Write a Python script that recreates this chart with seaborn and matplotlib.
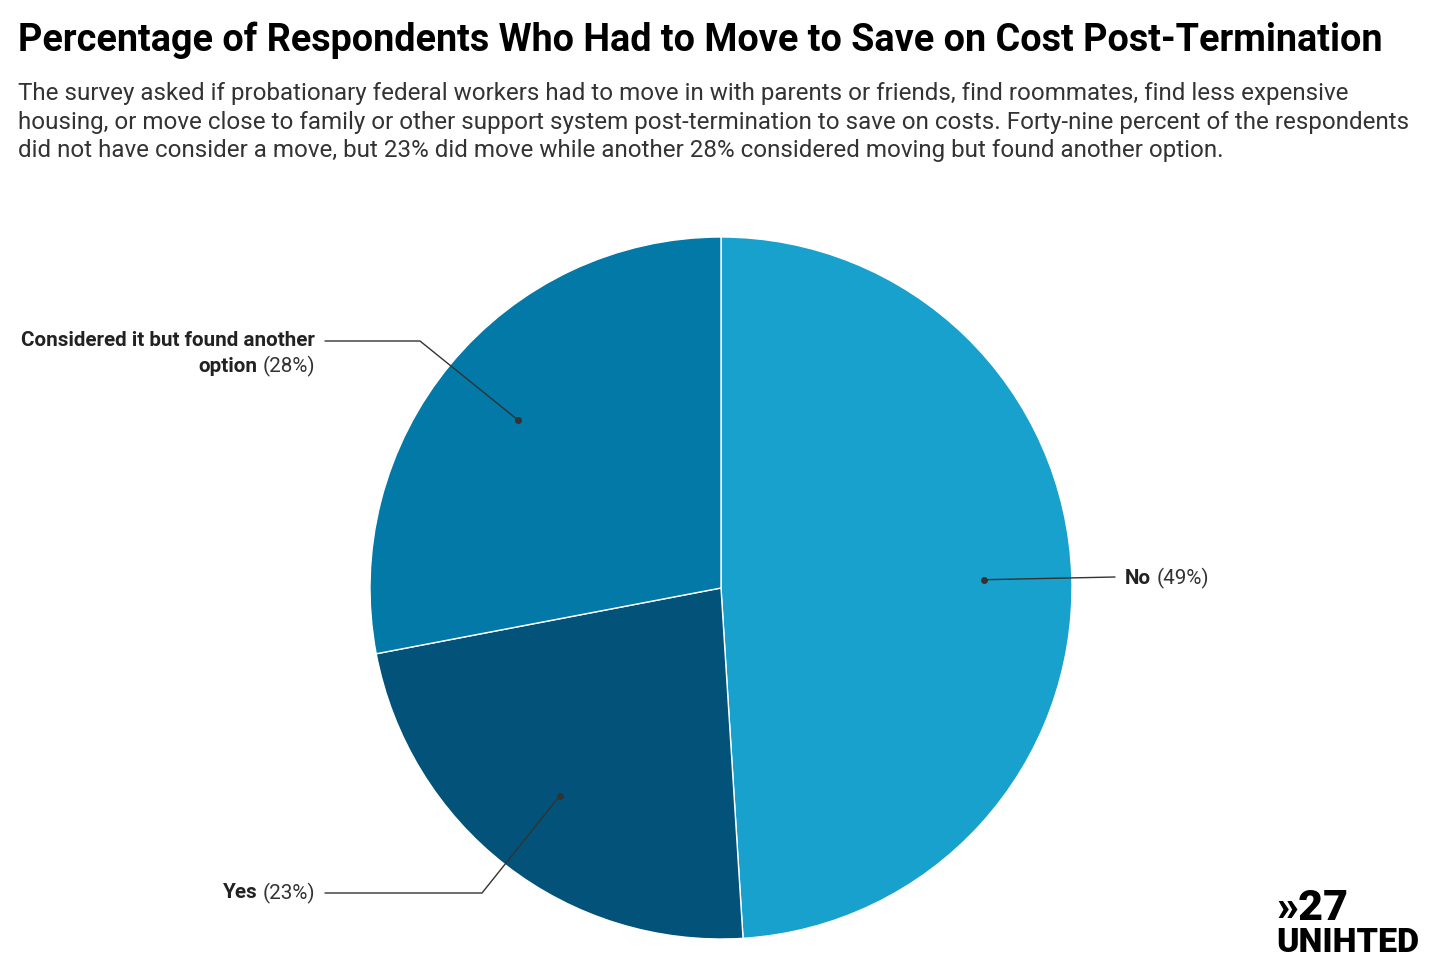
import numpy as np
import matplotlib.pyplot as plt
import seaborn as sns

sns.set_theme(style="white")
plt.rcParams["font.family"] = ["Roboto", "DejaVu Sans"]

labels = ["No", "Yes", "Considered it but found another\noption"]
values = [49, 23, 28]
colors = ["#18A1CD", "#02527A", "#0279A6"]

W, H = 1440, 968
fig = plt.figure(figsize=(W / 100, H / 100), dpi=100)
cx, cy, r = 721, 588, 351
ax = fig.add_axes([(cx - r) / W, (H - cy - r) / H, 2 * r / W, 2 * r / H])
wedges, _ = ax.pie(values, colors=colors, startangle=90, counterclock=False,
                   wedgeprops=dict(edgecolor="white", linewidth=1))
ax.set_xlim(-1, 1)
ax.set_ylim(-1, 1)
ax.set_aspect("equal")
ax.axis("off")

fig.text(18 / W, 1 - 40 / H, "Percentage of Respondents Who Had to Move to Save on Cost Post-Termination",
         fontsize=27.2, fontweight="bold", va="center", ha="left", color="black")
fig.text(18 / W, 1 - 122 / H,
         "The survey asked if probationary federal workers had to move in with parents or friends, find roommates, find less expensive\n"
         "housing, or move close to family or other support system post-termination to save on costs. Forty-nine percent of the respondents\n"
         "did not have consider a move, but 23% did move while another 28% considered moving but found another option.",
         fontsize=17.4, color="#333333", va="center", ha="left", linespacing=1.32)

renderer = fig.canvas.get_renderer()
FS = 14.9


def px(x, y):
    return x / W, 1 - y / H


def label(x, y, bold, pct, ha):
    if ha == "left":
        t = fig.text(*px(x, y), bold, fontsize=FS, fontweight="bold", va="center", ha="left", color="#222222")
        w = t.get_window_extent(renderer).width
        fig.text(*px(x + w + 5, y), pct, fontsize=FS, va="center", ha="left", color="#333333")
    else:
        t = fig.text(*px(x, y), pct, fontsize=FS, va="center", ha="right", color="#333333")
        w = t.get_window_extent(renderer).width
        fig.text(*px(x - w - 5, y), bold, fontsize=FS, fontweight="bold", va="center", ha="right", color="#222222")


# leader lines from wedge mid-angles
ends = [[(1115, 577)], [(482, 893), (325, 893)], [(420, 341), (325, 341)]]
for wd, pts in zip(wedges, ends):
    a = np.deg2rad((wd.theta1 + wd.theta2) / 2)
    dx, dy = cx + 0.75 * r * np.cos(a), cy - 0.75 * r * np.sin(a)
    xs = [dx] + [p[0] for p in pts]
    ys = [dy] + [p[1] for p in pts]
    fig.add_artist(plt.Line2D([x / W for x in xs], [1 - y / H for y in ys], color="#333333", lw=1))
    fig.add_artist(plt.Line2D([dx / W], [1 - dy / H], marker="o", ms=4, color="#333333"))

label(1125, 578, "No", f"({values[0]}%)", "left")
label(315, 893, "Yes", f"({values[1]}%)", "right")
fig.text(*px(315, 341), "Considered it but found another", fontsize=FS, fontweight="bold",
         va="center", ha="right", color="#222222")
label(315, 366, "option", f"({values[2]}%)", "right")

fig.text(*px(1276, 908), "»27", fontsize=31, fontweight="black", va="center", ha="left", color="black")
fig.text(*px(1276, 943), "UNIHTED", fontsize=24.5, fontweight="black", va="center", ha="left", color="black")

fig.savefig("out.png", dpi=100, facecolor="white")
